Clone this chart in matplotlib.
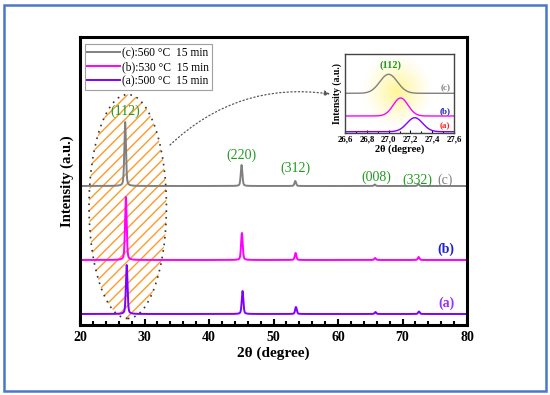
import numpy as np
import matplotlib
matplotlib.use("Agg")
import matplotlib.pyplot as plt
from matplotlib.patches import Ellipse, Rectangle
from matplotlib.ticker import MultipleLocator, FuncFormatter

plt.rcParams['font.family'] = ['Liberation Serif', 'DejaVu Serif']
plt.rcParams['hatch.linewidth'] = 1.0

# ---------------- data ----------------
series_labels = ["(c):560 \u00b0C  15 min", "(b):530 \u00b0C  15 min", "(a):500 \u00b0C  15 min"]
series_colors = ["#808080", "#ff00ff", "#8000ff"]
peak_names = ["(112)", "(220)", "(312)", "(008)", "(332)"]
pos_c = [27.00, 45.05, 53.38, 65.70, 72.45]
pos_b = [27.11, 45.10, 53.42, 65.75, 72.50]
pos_a = [27.24, 45.20, 53.48, 65.80, 72.55]
height_c = [64, 21, 5, 1.5, 2.0]
height_b = [63, 27, 7, 2.0, 3.0]
height_a = [49, 23, 7, 2.0, 2.5]
baseline_c, baseline_b, baseline_a = 139, 65, 11
main_fwhm = 0.30

inset_pos = [27.00, 27.11, 27.24]           # c, b, a
inset_height = [19, 18, 14]
inset_base = [39.7, 17, 1.3]
inset_fwhm = [0.19, 0.16, 0.17]
inset_tags = ["(c)", "(b)", "(a)"]
inset_tag_colors = ["#808080", "#2020c0", "#ff2020"]


def profile(x, positions, heights, fwhm, base):
    y = np.full_like(x, float(base))
    for p, h in zip(positions, heights):
        g = np.exp(-4 * np.log(2) * ((x - p) / fwhm) ** 2)
        l = 1.0 / (1 + 4 * ((x - p) / fwhm) ** 2)
        y += h * (0.6 * g + 0.4 * l)
    return y

# ---------------- figure ----------------
fig = plt.figure(figsize=(5.5, 3.95), dpi=100)
fig.patches.append(Rectangle((4 / 550, 4 / 395), 542 / 550, 386 / 395,
                             transform=fig.transFigure, fill=False,
                             edgecolor="#4a78c8", lw=1.8, zorder=0))

ax = fig.add_axes([80 / 550, (395 - 325) / 395, 387 / 550, 288 / 395])
x = np.linspace(20, 80, 6001)

# hatched ellipse
ell_c = (27.4, 118.5)
ax.add_patch(Ellipse(ell_c, 12.0, 224, facecolor="none", edgecolor="#ff9a2a",
                     hatch="///", lw=0, zorder=1))
ax.add_patch(Ellipse(ell_c, 12.0, 224, facecolor="none", edgecolor="#333333",
                     ls=(0, (1, 3)), lw=1.2, zorder=3))

data = [(pos_c, height_c, baseline_c), (pos_b, height_b, baseline_b), (pos_a, height_a, baseline_a)]
for (pp, hh, bb), lab, col in zip(data, series_labels, series_colors):
    ax.plot(x, profile(x, pp, hh, main_fwhm, bb), color=col, lw=1.4, label=lab, zorder=2)

ax.set_xlim(20, 80)
ax.set_ylim(0, 288)
ax.set_yticks([])
ax.xaxis.set_major_locator(MultipleLocator(10))
ax.xaxis.set_minor_locator(MultipleLocator(2))
ax.tick_params(axis='x', which='major', direction='in', length=4, width=1.5, pad=4,
               labelsize=10)
ax.tick_params(axis='x', which='minor', direction='in', length=3, width=1.5)
for lab in ax.get_xticklabels():
    lab.set_fontweight('bold')
for s in ax.spines.values():
    s.set_linewidth(2.2)
ax.set_xlabel("2\u03b8 (degree)", fontsize=11, fontweight='bold', labelpad=2)
ax.set_ylabel("Intensity (a.u.)", fontsize=10.5, fontweight='bold', labelpad=4)

leg = ax.legend(loc='upper left', bbox_to_anchor=(0.0, 0.99), fontsize=8.3,
                frameon=True, fancybox=False, edgecolor='#888888',
                handlelength=2.8, borderpad=0.25, labelspacing=0.15,
                handletextpad=0.2, borderaxespad=0.4)
leg.get_frame().set_linewidth(0.8)

green = "#1f9a1f"
label_pos_y = [207, 163, 150, 141, 138]
label_x = [27.0, 45.05, 53.38, 66.0, 72.35]
for name, lx, ly in zip(peak_names, label_x, label_pos_y):
    ax.text(lx, ly, name, color=green, fontsize=10, ha='center', va='bottom', zorder=4)
ax.text(76.6, 138, "(c)", color="#808080", fontsize=10, ha='center', va='bottom')
ax.text(76.7, 69, "(b)", color="#2020d0", fontsize=10, fontweight='bold', ha='center', va='bottom')
ax.text(76.8, 15, "(a)", color="#9a30ff", fontsize=10, fontweight='bold', ha='center', va='bottom')

# arrow
ax.annotate("", xy=(330, 301), xycoords='figure pixels',
            xytext=(170, 250), textcoords='figure pixels',
            arrowprops=dict(arrowstyle='-|>', linestyle=(0, (1, 2)), color='#555555',
                            lw=0.9, connectionstyle='arc3,rad=-0.24',
                            mutation_scale=8, shrinkA=0, shrinkB=0))

# ---------------- inset ----------------
ins = fig.add_axes([345 / 550, (395 - 133) / 395, 109 / 550, 79 / 395])
xi = np.linspace(26.6, 27.6, 801)
gx, gy = np.meshgrid(np.linspace(26.6, 27.6, 200), np.linspace(0, 79, 160))
r = np.sqrt(((gx - 27.08) / 0.33) ** 2 + ((gy - 42) / 38) ** 2)
alpha = np.clip(1 - r, 0, 1) ** 1.2
rgba = np.zeros(gx.shape + (4,))
rgba[..., 0] = 1.0
rgba[..., 1] = 0.95
rgba[..., 2] = 0.45
rgba[..., 3] = alpha * 0.75
ins.imshow(rgba, extent=(26.6, 27.6, 0, 79), origin='lower', aspect='auto', zorder=0)
inset_colors = series_colors
for p, h, b, w, col in zip(inset_pos, inset_height, inset_base, inset_fwhm, inset_colors):
    g = np.exp(-4 * np.log(2) * ((xi - p) / w) ** 2)
    ins.plot(xi, b + h * g, color=col, lw=1.0, zorder=2)
ins.set_xlim(26.6, 27.6)
ins.set_ylim(0, 79)
ins.set_yticks([])
ins.xaxis.set_major_locator(MultipleLocator(0.2))
ins.xaxis.set_minor_locator(MultipleLocator(0.1))
ins.xaxis.set_major_formatter(FuncFormatter(lambda v, p: f"{v:.1f}".replace('.', ',')))
ins.tick_params(axis='x', which='major', direction='in', length=2.5, width=0.8, pad=1.5,
                labelsize=6.3)
ins.tick_params(axis='x', which='minor', direction='in', length=1.5, width=0.8)
for lab in ins.get_xticklabels():
    lab.set_fontweight('bold')
for s in ins.spines.values():
    s.set_linewidth(1.0)
    s.set_color('#444444')
ins.set_xlabel("2\u03b8 (degree)", fontsize=7.5, fontweight='bold', labelpad=1)
ins.set_ylabel("Intensity (a.u.)", fontsize=7, fontweight='bold', labelpad=2)
ins.text(27.02, 63, "(112)", color=green, fontsize=7.5, fontweight='bold', ha='center', va='bottom')
tag_y = [40.5, 18, 2.5]
for t, ty, tc in zip(inset_tags, tag_y, inset_tag_colors):
    ins.text(27.52, ty, t, color=tc, fontsize=6.5, fontweight='bold', ha='center', va='bottom')

fig.savefig("out.png", dpi=100)
